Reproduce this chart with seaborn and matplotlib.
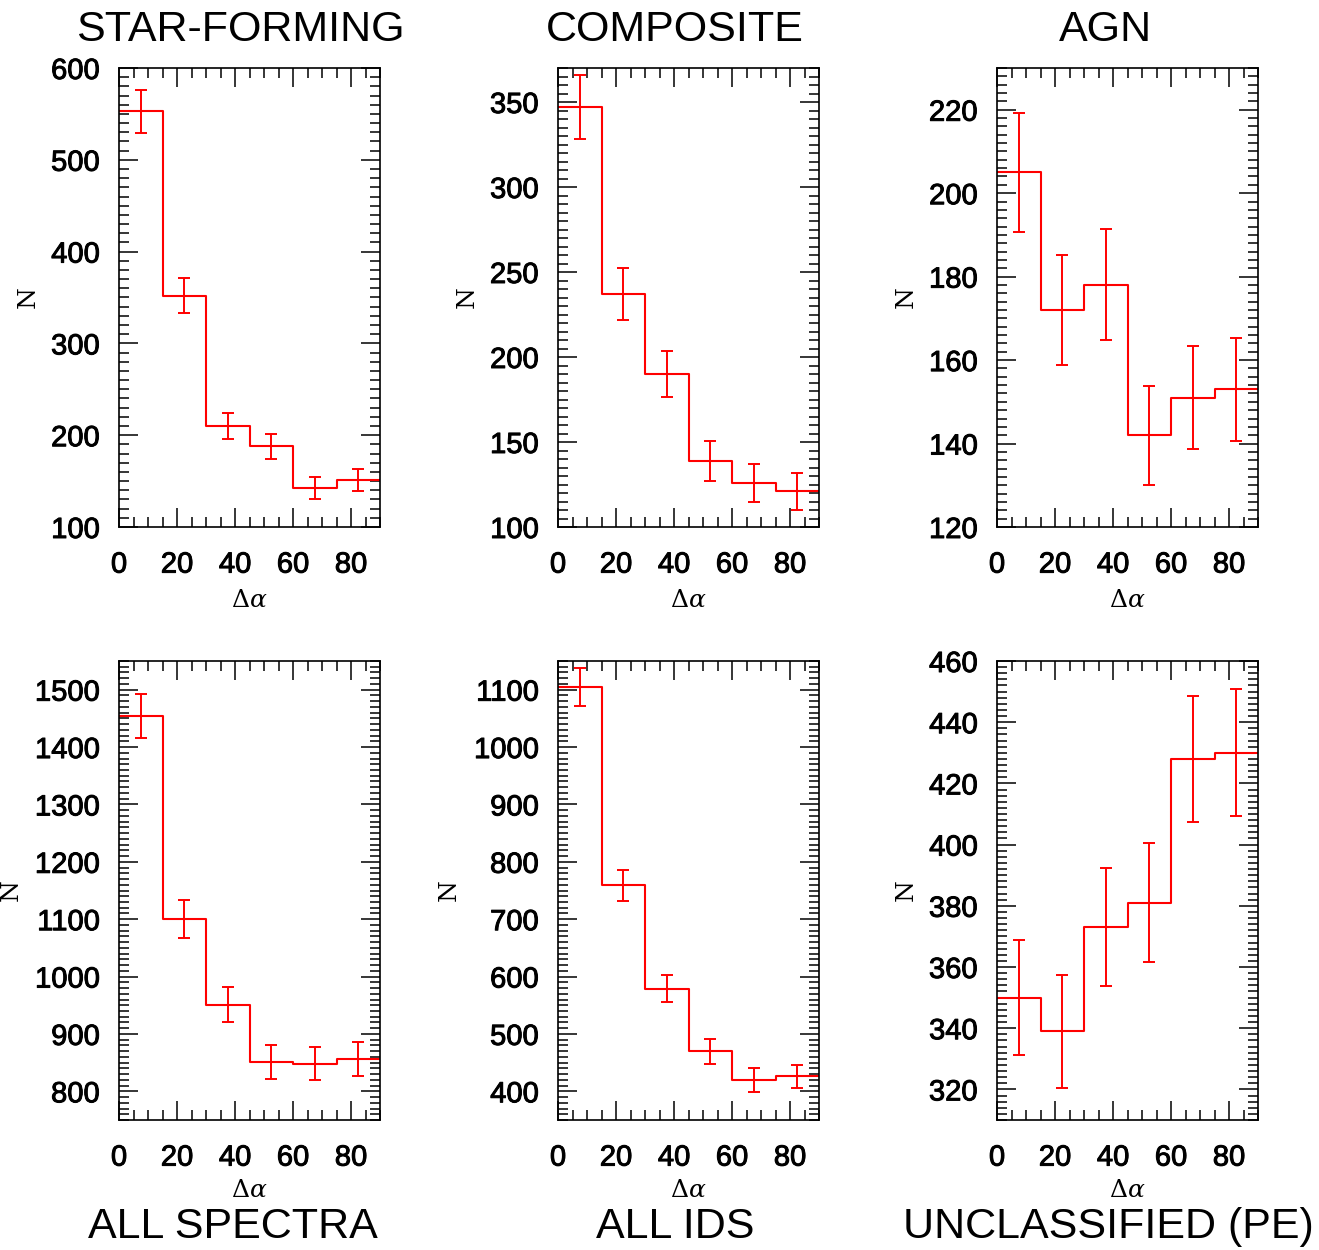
import numpy as np
import matplotlib
matplotlib.use("Agg")
import matplotlib.pyplot as plt
import matplotlib.patheffects as pe
from matplotlib.ticker import MultipleLocator
import seaborn as sns

# Position-angle offset bins (degrees)
bin_edges = [0, 15, 30, 45, 60, 75, 90]
bin_centers = [7.5, 22.5, 37.5, 52.5, 67.5, 82.5]

# Counts per bin and their Poisson errors for each sample
sf_counts = [553, 352, 210, 188, 143, 151]
sf_err = [23.5, 18.8, 14.5, 13.7, 12.0, 12.3]

comp_counts = [347, 237, 190, 139, 126, 121]
comp_err = [18.6, 15.4, 13.8, 11.8, 11.2, 11.0]

agn_counts = [205, 172, 178, 142, 151, 153]
agn_err = [14.3, 13.1, 13.3, 11.9, 12.3, 12.4]

all_spec_counts = [1454, 1100, 951, 851, 848, 856]
all_spec_err = [38.1, 33.2, 30.8, 29.2, 29.1, 29.3]

all_ids_counts = [1105, 759, 579, 470, 420, 426]
all_ids_err = [33.2, 27.5, 24.1, 21.7, 20.5, 20.6]

unc_counts = [350, 339, 373, 381, 428, 430]
unc_err = [18.7, 18.4, 19.3, 19.5, 20.7, 20.7]

panel_titles = ["STAR-FORMING", "COMPOSITE", "AGN",
                "ALL SPECTRA", "ALL IDS", "UNCLASSIFIED (PE)"]

sns.set_style("ticks")
plt.rcParams["font.family"] = ["Liberation Sans", "DejaVu Sans"]
plt.rcParams["mathtext.fontset"] = "dejavuserif"
for key in ("text.color", "axes.labelcolor", "xtick.color", "ytick.color",
            "axes.edgecolor"):
    plt.rcParams[key] = "black"

W, H = 1319, 1250
fig = plt.figure(figsize=(W / 100, H / 100), dpi=100)

panels = [
    # counts, errors, left px, top px, ylim, major, minor, N-label x (axes)
    (sf_counts, sf_err, 119, 68, (100, 600), 100, 10, -0.304),
    (comp_counts, comp_err, 558, 68, (100, 370), 50, 5, -0.302),
    (agn_counts, agn_err, 997, 68, (120, 230), 20, 2, -0.302),
    (all_spec_counts, all_spec_err, 119, 661, (750, 1550), 100, 10, -0.37),
    (all_ids_counts, all_ids_err, 558, 661, (350, 1150), 100, 10, -0.371),
    (unc_counts, unc_err, 997, 661, (310, 460), 20, 2, -0.302),
]

# Slightly heavier strokes for the tick numbers
heavy = [pe.withStroke(linewidth=0.7, foreground="black")]

ax_w, ax_h = 261, 459
for i, (counts, errs, lx, ty, ylim, major, minor, nx) in enumerate(panels):
    ax = fig.add_axes([lx / W, 1 - (ty + ax_h) / H, ax_w / W, ax_h / H])
    sns.histplot(x=bin_centers, weights=counts, bins=bin_edges,
                 element="step", fill=False, color="#ff0000",
                 linewidth=1.5, ax=ax)
    ax.errorbar(bin_centers, counts, yerr=errs, fmt="none",
                ecolor="#ff0000", elinewidth=1.4, capsize=4.5, capthick=1.4)
    ax.set_xlim(0, 90)
    ax.set_ylim(*ylim)
    ax.xaxis.set_major_locator(MultipleLocator(20))
    ax.xaxis.set_minor_locator(MultipleLocator(5))
    ax.yaxis.set_major_locator(MultipleLocator(major))
    ax.yaxis.set_minor_locator(MultipleLocator(minor))
    ax.tick_params(which="both", direction="in", top=True, right=True,
                   color="black", width=1.1)
    ax.tick_params(which="major", length=14)
    ax.tick_params(which="minor", length=7.5)
    ax.tick_params(axis="y", which="major", labelsize=21, pad=14)
    ax.tick_params(axis="x", which="major", labelsize=21, pad=17)
    for lab in ax.get_xticklabels() + ax.get_yticklabels():
        lab.set_path_effects(heavy)
    for sp in ax.spines.values():
        sp.set_linewidth(1.2)
        sp.set_color("black")
    ax.set_ylabel("N", fontsize=18, family="DejaVu Serif")
    ax.yaxis.set_label_coords(nx, 0.5)
    ax.set_xlabel(r"$\Delta\alpha$", fontsize=18)
    ax.xaxis.set_label_coords(0.5, -0.133 if i < 3 else -0.126)

# Sample names above the top row and below the bottom row
fig.text(240 / W, 1 - 30 / H, panel_titles[0], ha="center", va="center", fontsize=31)
fig.text(675 / W, 1 - 30 / H, panel_titles[1], ha="center", va="center", fontsize=31)
fig.text(1105 / W, 1 - 30 / H, panel_titles[2], ha="center", va="center", fontsize=31)
fig.text(233 / W, 1 - 1227 / H, panel_titles[3], ha="center", va="center", fontsize=31)
fig.text(675 / W, 1 - 1227 / H, panel_titles[4], ha="center", va="center", fontsize=31)
fig.text(1108 / W, 1 - 1227 / H, panel_titles[5], ha="center", va="center", fontsize=31)

fig.savefig("out.png", dpi=100, facecolor="white")
